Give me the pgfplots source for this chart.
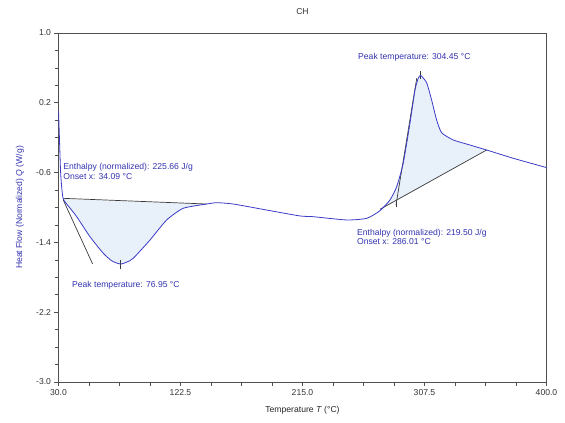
\documentclass[border=0pt]{standalone}
\usepackage{fontspec}
\setmainfont{Liberation Sans}
\usepackage{pgfplots}
\pgfplotsset{compat=1.18}
\definecolor{curveblue}{HTML}{3B3BC8}
\definecolor{txtblue}{HTML}{3333B0}
\definecolor{fillblue}{HTML}{E8F0FA}
\definecolor{axisgray}{HTML}{505050}
\definecolor{basegray}{HTML}{3A3A3A}
\newcommand{\lbl}{\fontsize{8.6}{9.5}\selectfont}
\begin{document}
\begin{tikzpicture}
\begin{axis}[
  scale only axis, width=488pt, height=349pt,
  xmin=30, xmax=400, ymin=-3, ymax=1,
  xtick={30,122.5,215,307.5,400},
  ytick={-3,-2.2,-1.4,-0.6,0.2,1},
  minor tick num=3,
  tick pos=left, tick align=outside,
  major tick length=4pt, minor tick length=3.5pt,
  axis line style={axisgray, line width=0.8pt},
  every tick/.style={axisgray, line width=0.6pt},
  tick label style={font=\lbl, text=black!80},
  /pgf/number format/assume math mode=true,
  xticklabel style={/pgf/number format/fixed, /pgf/number format/fixed zerofill, /pgf/number format/precision=1},
  yticklabel style={/pgf/number format/fixed, /pgf/number format/fixed zerofill, /pgf/number format/precision=1},
  title={CH},
  every axis title shift=0pt,
  title style={font=\lbl, text=black!80, at={(axis description cs:0.5,1)}, yshift=21pt, anchor=center},
  xlabel={Temperature \textit{T} (°C)},
  x label style={font=\lbl, text=black!85, at={(axis description cs:0.5,0)}, yshift=-28pt, anchor=center},
  ylabel={Heat Flow (Normalized) \textit{Q} (W/g)},
  y label style={font=\lbl, text=txtblue, at={(axis description cs:0,0.5)}, yshift=38.5pt, anchor=center},
]
% left peak fill
\addplot[fill=fillblue, draw=none] coordinates {
  (33.64,-0.903)(38.7,-1.006)(43.8,-1.105)(53.9,-1.335)(64.0,-1.525)(70.6,-1.613)
  (76.95,-1.648)(81.9,-1.625)(86.7,-1.582)(99.4,-1.372)(112.0,-1.143)(124.6,-1.009)(142.4,-0.960)
};
% right peak fill
\addplot[fill=fillblue, draw=none] coordinates {
  (273.7,-1.030)(281.3,-0.914)(286.4,-0.762)(291.4,-0.490)(296.5,-0.032)(300.3,0.347)
  (302.8,0.484)(304.45,0.515)(305.6,0.500)(309.2,0.427)(312.9,0.232)(316.7,0.003)
  (320.5,-0.143)(329.3,-0.226)(342.0,-0.284)(354.6,-0.341)
};
% baselines and tangents
\addplot[basegray, line width=0.7pt] coordinates {(33.6,-0.895)(142.4,-0.960)};
\addplot[basegray, line width=0.7pt] coordinates {(33.6,-0.914)(55.9,-1.648)};
\addplot[basegray, line width=0.6pt] coordinates {(76.95,-1.60)(76.95,-1.70)};
\addplot[basegray, line width=0.7pt] coordinates {(273.7,-1.021)(354.6,-0.341)};
\addplot[basegray, line width=0.7pt] coordinates {(285.9,-0.971)(301.6,0.481)};
\addplot[basegray, line width=0.6pt] coordinates {(285.9,-0.93)(285.9,-1.00)};
\addplot[basegray, line width=0.6pt] coordinates {(304.45,0.47)(304.45,0.56)};
% curve
\addplot[curveblue, line width=0.8pt, smooth, tension=0.35] coordinates {
  (30.0,0.117)(30.76,-0.226)(31.52,-0.570)(32.27,-0.742)(33.64,-0.903)
  (38.7,-1.006)(43.8,-1.105)(53.9,-1.335)(64.0,-1.525)(70.6,-1.613)
  (76.95,-1.648)(81.9,-1.625)(86.7,-1.582)(99.4,-1.372)(112.0,-1.143)
  (124.6,-1.009)(142.4,-0.960)(149.9,-0.945)(162.5,-0.960)(187.8,-1.029)
  (213.1,-1.097)(222.9,-1.105)(248.5,-1.143)(263.7,-1.124)(273.7,-1.037)
  (281.3,-0.914)(286.4,-0.762)(291.4,-0.490)(296.5,-0.032)(300.3,0.347)
  (302.8,0.484)(304.45,0.515)(305.6,0.500)(309.2,0.427)(312.9,0.232)
  (316.7,0.003)(320.5,-0.143)(329.3,-0.226)(342.0,-0.284)(354.6,-0.341)
  (374.8,-0.436)(397.5,-0.532)(400,-0.543)
};
% annotations
\node[anchor=west, inner sep=0pt, align=left, font=\lbl, text=txtblue] at (axis cs:33.6,-0.587)
  {Enthalpy (normalized): 225.66 J/g\\Onset x: 34.09 °C};
\node[anchor=west, inner sep=0pt, font=\lbl, text=txtblue] at (axis cs:40.2,-1.888)
  {Peak temperature: 76.95 °C};
\node[anchor=west, inner sep=0pt, font=\lbl, text=txtblue] at (axis cs:257.1,0.725)
  {Peak temperature: 304.45 °C};
\node[anchor=west, inner sep=0pt, align=left, font=\lbl, text=txtblue] at (axis cs:256.3,-1.338)
  {Enthalpy (normalized): 219.50 J/g\\Onset x: 286.01 °C};
\end{axis}
\path ([xshift=-58.5pt,yshift=-41pt]current axis.south west) rectangle ++(565pt,423pt);
\end{tikzpicture}
\end{document}
